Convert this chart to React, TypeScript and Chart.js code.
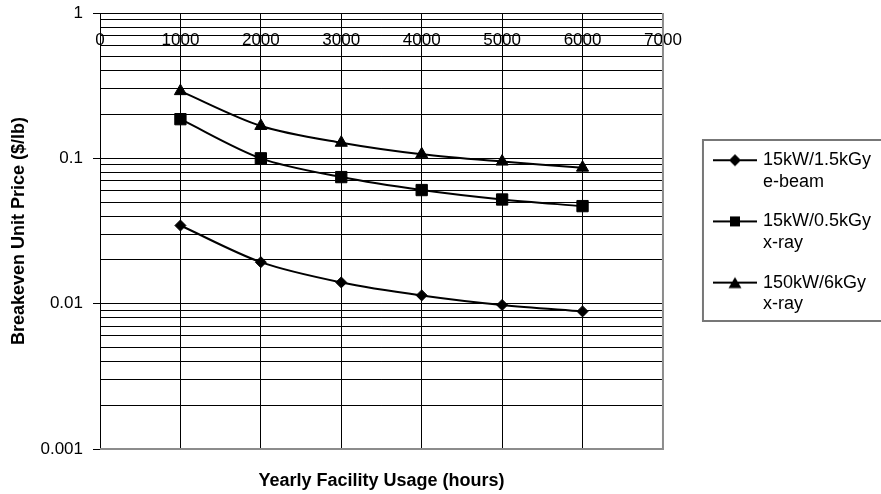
import React, { useEffect, useRef } from "react";
import { Chart, registerables } from "chart.js";

Chart.register(...registerables);

// ---- data ----
const HOURS = [1000, 2000, 3000, 4000, 5000, 6000];
const EBEAM_15KW_1_5KGY = [0.0345, 0.0193, 0.014, 0.0114, 0.0098, 0.00885];
const XRAY_15KW_0_5KGY = [0.186, 0.1, 0.0743, 0.0605, 0.0521, 0.0469];
const XRAY_150KW_6KGY = [0.29, 0.167, 0.128, 0.1066, 0.095, 0.0863];

const SERIES_LABELS = [
  ["15kW/1.5kGy", "e-beam"],
  ["15kW/0.5kGy", "x-ray"],
  ["150kW/6kGy", "x-ray"],
];
const SERIES_MARKERS = ["rectRot", "rect", "triangle"];
const SERIES_RADII = [5.5, 8, 7];

const X_TICKS = [0, 1000, 2000, 3000, 4000, 5000, 6000, 7000];
const X_TICK_LABELS = ["0", "1000", "2000", "3000", "4000", "5000", "6000", "7000"];
const Y_MAJOR_TICKS = [0.001, 0.01, 0.1, 1];
const Y_TICK_LABELS = ["0.001", "0.01", "0.1", "1"];

const X_TITLE = "Yearly Facility Usage (hours)";
const Y_TITLE = "Breakeven Unit Price ($/lb)";

const FONT = '"Liberation Sans", Arial, Helvetica, sans-serif';
const LEGEND_FONT_SIZE = 18;
const LEGEND_PADDING = 18;
const LEGEND_BOX_W = 38;

function isDecade(v: number) {
  const l = Math.log10(v);
  return Math.abs(l - Math.round(l)) < 1e-6;
}
function isWholeMantissa(v: number) {
  const e = Math.floor(Math.log10(v) + 1e-9);
  const m = v / Math.pow(10, e);
  return Math.abs(m - Math.round(m)) < 1e-6;
}

function legendSymbol(marker: string): HTMLCanvasElement {
  const c = document.createElement("canvas");
  c.width = 44;
  c.height = 16;
  const g = c.getContext("2d")!;
  g.strokeStyle = "#000";
  g.lineWidth = 2;
  g.beginPath();
  g.moveTo(0, 8);
  g.lineTo(44, 8);
  g.stroke();
  g.fillStyle = "#000";
  g.beginPath();
  if (marker === "rectRot") {
    g.moveTo(22, 2);
    g.lineTo(28, 8);
    g.lineTo(22, 14);
    g.lineTo(16, 8);
  } else if (marker === "rect") {
    g.rect(17, 3, 10, 10);
  } else {
    g.moveTo(22, 2.5);
    g.lineTo(28.5, 13.5);
    g.lineTo(15.5, 13.5);
  }
  g.closePath();
  g.fill();
  return c;
}

const framePlugin = {
  id: "frame",
  beforeDatasetsDraw(chart: any) {
    const { ctx, chartArea: a } = chart;
    ctx.save();
    ctx.strokeStyle = "#8c8c8c";
    ctx.lineWidth = 2;
    ctx.beginPath();
    ctx.moveTo(a.right, a.top);
    ctx.lineTo(a.right, a.bottom + 1);
    ctx.moveTo(a.left, a.bottom);
    ctx.lineTo(a.right + 1, a.bottom);
    ctx.stroke();
    ctx.restore();
  },
  afterDraw(chart: any) {
    const { ctx, chartArea: a } = chart;
    const mid = (a.top + a.bottom) / 2;
    ctx.save();
    ctx.strokeStyle = "#777";
    ctx.lineWidth = 2;
    ctx.strokeRect(a.right + 40, mid - 91, 400, 181);
    ctx.restore();
  },
};

export default function App() {
  const ref = useRef<HTMLCanvasElement | null>(null);

  useEffect(() => {
    if (!ref.current) return;
    Chart.defaults.font.family = FONT;
    Chart.defaults.color = "#000";
    const symbols = SERIES_MARKERS.map(legendSymbol);
    const seriesValues = [EBEAM_15KW_1_5KGY, XRAY_15KW_0_5KGY, XRAY_150KW_6KGY];

    // legend natural width -> right padding so the legend starts 35px right of the plot
    const m = document.createElement("canvas").getContext("2d")!;
    m.font = `${LEGEND_FONT_SIZE}px ${FONT}`;
    const tw = Math.max(...SERIES_LABELS.flat().map((t) => m.measureText(t).width));
    const legendW = LEGEND_PADDING + LEGEND_BOX_W + LEGEND_FONT_SIZE / 2 + tw + 10;
    const padRight = Math.max(0, 881 - 698 - legendW);

    const chart = new Chart(ref.current, {
      type: "line",
      data: {
        datasets: seriesValues.map((vals, i) => ({
          label: SERIES_LABELS[i].join(" "),
          data: HOURS.map((h, j) => ({ x: h, y: vals[j] })),
          borderColor: "#000",
          backgroundColor: "#000",
          borderWidth: 2,
          pointStyle: SERIES_MARKERS[i] as any,
          pointRadius: SERIES_RADII[i],
          pointBorderWidth: 1,
          pointBorderColor: "#000",
          pointBackgroundColor: "#000",
          tension: 0.3,
          xAxisID: "x",
          yAxisID: "y",
        })),
      },
      options: {
        responsive: false,
        animation: false,
        devicePixelRatio: 1,
        layout: { padding: { left: 0, top: 0, bottom: 0, right: padRight }, autoPadding: false },
        scales: {
          x: {
            type: "linear",
            position: "top",
            min: 0,
            max: 7000,
            afterBuildTicks: (s: any) => {
              s.ticks = X_TICKS.map((v) => ({ value: v }));
            },
            afterFit: (s: any) => {
              s.height = 13;
            },
            ticks: {
              autoSkip: false,
              maxRotation: 0,
              minRotation: 0,
              mirror: true,
              padding: 17,
              font: { size: 17 },
              color: "#000",
              callback: (v: any) => {
                const i = X_TICKS.indexOf(Number(v));
                return i >= 0 ? X_TICK_LABELS[i] : String(v);
              },
            },
            grid: { color: "#000", lineWidth: 1, drawTicks: false },
            border: { display: true, color: "#000", width: 1 },
          },
          x2: {
            type: "linear",
            position: "bottom",
            min: 0,
            max: 7000,
            display: true,
            grid: { display: false, drawTicks: false },
            ticks: { display: false },
            border: { display: false },
            afterFit: (s: any) => {
              s.height = 45;
            },
            title: {
              display: true,
              text: X_TITLE,
              color: "#000",
              font: { size: 18, weight: "bold" },
              padding: { top: 0, bottom: 2 },
            },
          },
          y: {
            type: "logarithmic",
            position: "left",
            min: 0.001,
            max: 1,
            afterBuildTicks: (s: any) => {
              s.ticks = s.ticks.filter((t: any) => isWholeMantissa(t.value));
            },
            afterFit: (s: any) => {
              s.width = 100;
            },
            ticks: {
              autoSkip: false,
              padding: 0,
              font: { size: 17 },
              color: "#000",
              callback: (v: any) => {
                const i = Y_MAJOR_TICKS.findIndex(
                  (mv) => Math.abs(Math.log10(Number(v)) - Math.log10(mv)) < 1e-6
                );
                return i >= 0 ? Y_TICK_LABELS[i] : "";
              },
            },
            grid: {
              color: "#000",
              lineWidth: 1,
              tickLength: 17,
              tickBorderDash: [0, 10, 7, 20],
              tickColor: (c: any) =>
                c.tick && isDecade(c.tick.value) ? "#000" : "rgba(0,0,0,0)",
            },
            border: { display: true, color: "#000", width: 1 },
            title: {
              display: true,
              text: Y_TITLE,
              color: "#000",
              font: { size: 18, weight: "bold" },
              padding: { top: 8, bottom: 0 },
            },
          },
          y2: {
            type: "linear",
            position: "right",
            display: false,
            afterFit: (s: any) => {
              s.width = 35;
            },
          },
        },
        plugins: {
          tooltip: { enabled: false },
          legend: {
            display: true,
            position: "right",
            fullSize: false,
            align: "center",
            title: { display: true, text: "", padding: 0, font: { size: 5 } },
            labels: {
              usePointStyle: true,
              pointStyleWidth: LEGEND_BOX_W,
              padding: LEGEND_PADDING,
              color: "#000",
              font: { size: LEGEND_FONT_SIZE },
              generateLabels: (ch: any) =>
                ch.data.datasets.map((_ds: any, i: number) => ({
                  text: SERIES_LABELS[i],
                  pointStyle: symbols[i],
                  fillStyle: "#000",
                  strokeStyle: "#000",
                  lineWidth: 0,
                  hidden: false,
                  datasetIndex: i,
                })),
            },
          },
        },
      } as any,
      plugins: [framePlugin],
    });
    return () => chart.destroy();
  }, []);

  return (
    <canvas
      ref={ref}
      width={881}
      height={494}
      style={{ position: "absolute", left: 0, top: 0, display: "block" }}
    />
  );
}
